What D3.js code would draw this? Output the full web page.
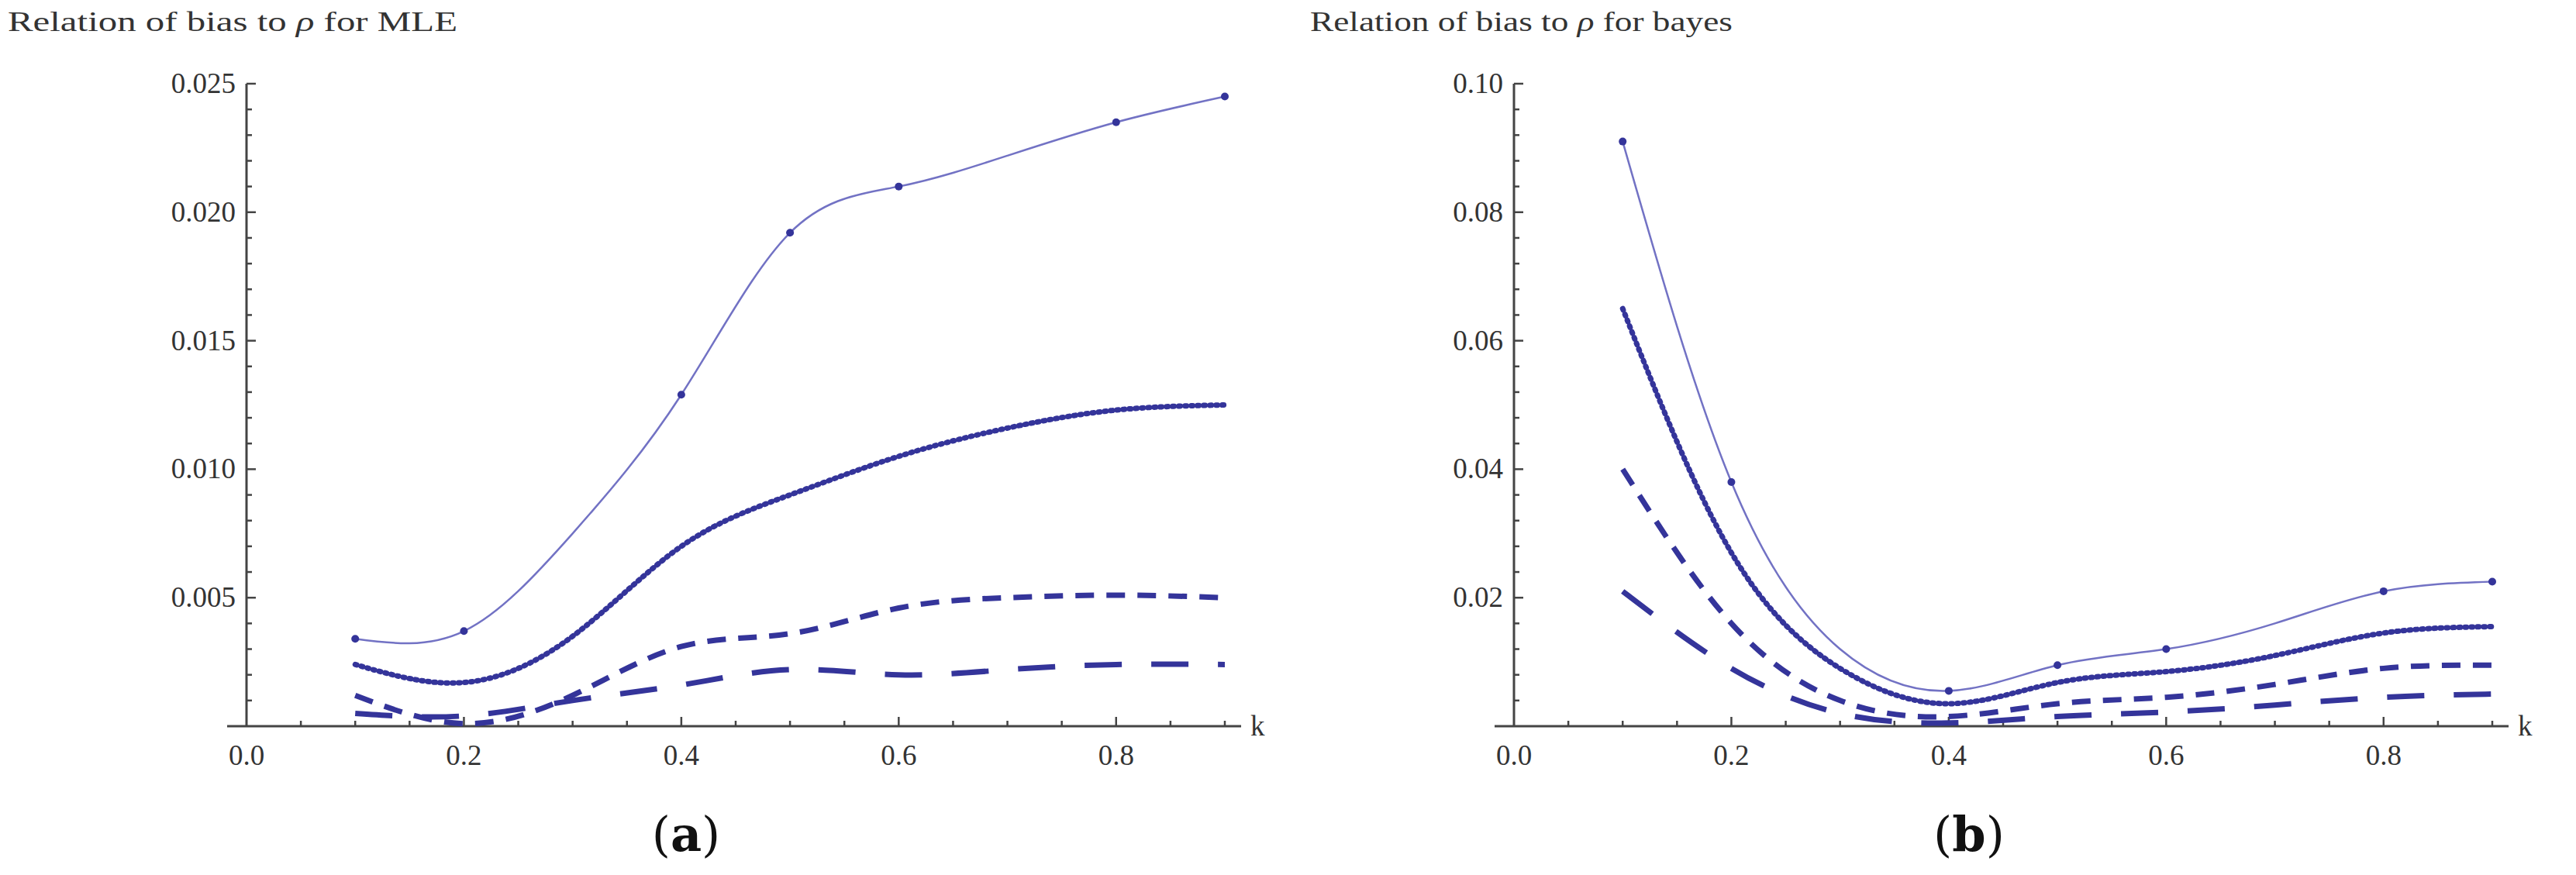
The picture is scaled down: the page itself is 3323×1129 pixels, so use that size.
<!DOCTYPE html>
<html>
<head>
<meta charset="utf-8">
<script src="https://d3js.org/d3.v7.min.js"></script>
<style>
  body { margin: 0; background: #fff; }
  text { font-family: "Liberation Serif", serif; fill: #333; }
</style>
</head>
<body>
<div id="chart"></div>
<script>
// k values shared by both panels
var kValues = [0.1, 0.2, 0.3, 0.4, 0.5, 0.6, 0.7, 0.8, 0.9];
// k values that carry a point marker on the solid curve
var markerK = [0.1, 0.2, 0.4, 0.5, 0.6, 0.8, 0.9];

// (a) MLE
var mleSolid  = [0.0034, 0.0037, 0.0075, 0.0129, 0.0192, 0.0210, 0.0222, 0.0235, 0.0245];
var mleDotted = [0.0024, 0.0017, 0.0035, 0.0070, 0.0090, 0.0105, 0.0116, 0.0123, 0.0125];
var mleDashed = [0.0012, 0.0001, 0.0012, 0.0031, 0.0036, 0.0046, 0.0050, 0.0051, 0.0050];
var mleLong   = [0.0005, 0.0004, 0.0010, 0.0016, 0.0022, 0.0020, 0.0022, 0.0024, 0.0024];

// (b) bayes
var bayesSolid  = [0.091, 0.038, 0.012, 0.0055, 0.0095, 0.012, 0.016, 0.021, 0.0225];
var bayesDotted = [0.065, 0.027, 0.009, 0.0035, 0.0068, 0.0085, 0.011, 0.0145, 0.0155];
var bayesDashed = [0.040, 0.016, 0.004, 0.0015, 0.0035, 0.0045, 0.0065, 0.009, 0.0095];
var bayesLong   = [0.021, 0.009, 0.002, 0.0005, 0.0015, 0.0022, 0.0033, 0.0045, 0.005];

var mleYTicks = [0.005, 0.010, 0.015, 0.020, 0.025];
var bayesYTicks = [0.02, 0.04, 0.06, 0.08, 0.10];
var xTicks = [0.0, 0.2, 0.4, 0.6, 0.8];

var svg = d3.select("#chart").append("svg")
    .attr("width", 3323)
    .attr("height", 1129);

var styles = [
    { color: "#7272c4", width: 2.5, dash: null, marker: true },
    { color: "#34349a", width: 7, dash: "2,6", marker: false },
    { color: "#34349a", width: 7, dash: "24,16", marker: false },
    { color: "#34349a", width: 7, dash: "48,38", marker: false }
];

function drawPanel(opts) {
    var g = svg.append("g");
    var x = d3.scaleLinear().domain([0, 0.9]).range([opts.x0, opts.x0 + 1262]);
    var y = d3.scaleLinear().domain([0, opts.ymax]).range([937, 108]);

    // axes lines
    g.append("line").attr("x1", opts.x0 - 25).attr("x2", x(0.915))
        .attr("y1", y(0)).attr("y2", y(0)).attr("stroke", "#444").attr("stroke-width", 3);
    g.append("line").attr("x1", x(0)).attr("x2", x(0))
        .attr("y1", y(0)).attr("y2", y(opts.ymax)).attr("stroke", "#444").attr("stroke-width", 3);

    // x ticks (major and minor, pointing up)
    d3.range(1, 19).forEach(function(i) {
        var v = i * 0.05;
        var major = i % 4 === 0;
        g.append("line").attr("x1", x(v)).attr("x2", x(v))
            .attr("y1", y(0)).attr("y2", y(0) - (major ? 12 : 7))
            .attr("stroke", "#444").attr("stroke-width", 2.5);
    });
    xTicks.forEach(function(v) {
        g.append("text").attr("x", x(v)).attr("y", y(0) + 50)
            .attr("text-anchor", "middle").attr("font-size", 37).text(v.toFixed(1));
    });
    g.append("text").attr("x", x(0.915) + 12).attr("y", y(0) + 12)
        .attr("font-size", 37).text("k");

    // y ticks (pointing right)
    var minor = opts.ymax / 25;
    d3.range(1, 26).forEach(function(i) {
        var major = i % 5 === 0;
        g.append("line").attr("x1", x(0)).attr("x2", x(0) + (major ? 12 : 7))
            .attr("y1", y(i * minor)).attr("y2", y(i * minor))
            .attr("stroke", "#444").attr("stroke-width", 2.5);
    });
    opts.yTicks.forEach(function(v) {
        g.append("text").attr("x", x(0) - 14).attr("y", y(v) + 12)
            .attr("text-anchor", "end").attr("font-size", 37).text(v.toFixed(opts.digits));
    });

    // title and panel label
    g.append("text").attr("x", opts.titleX).attr("y", 40).attr("font-size", 36)
        .attr("textLength", opts.titleLen).attr("lengthAdjust", "spacingAndGlyphs")
        .html(opts.title);
    g.append("text").attr("x", opts.labelX).attr("y", 1098).attr("text-anchor", "middle")
        .attr("font-size", 62).style("font-family", "'DejaVu Serif', serif").style("fill", "#111")
        .html(opts.label);

    var line = d3.line().curve(d3.curveNatural)
        .x(function(d, i) { return x(kValues[i]); })
        .y(function(d) { return y(Math.max(d, 0)); });

    opts.series.forEach(function(s, si) {
        var st = styles[si];
        g.append("path").datum(s).attr("d", line)
            .attr("fill", "none").attr("stroke", st.color)
            .attr("stroke-width", st.width)
            .attr("stroke-linecap", si === 1 ? "round" : "butt")
            .attr("stroke-dasharray", st.dash);
        if (st.marker) {
            var pts = s.map(function(d, i) { return { k: kValues[i], v: d }; })
                .filter(function(p) { return markerK.indexOf(p.k) >= 0; });
            g.selectAll(null).data(pts).enter().append("circle")
                .attr("cx", function(p) { return x(p.k); })
                .attr("cy", function(p) { return y(p.v); })
                .attr("r", 5).attr("fill", "#34349a");
        }
    });
}

drawPanel({
    x0: 318, ymax: 0.025, yTicks: mleYTicks, digits: 3,
    titleX: 10, titleLen: 580, labelX: 885,
    title: "Relation of bias to <tspan font-style='italic'>ρ</tspan> for MLE",
    label: "(<tspan font-weight='bold'>a</tspan>)",
    series: [mleSolid, mleDotted, mleDashed, mleLong]
});
drawPanel({
    x0: 1953, ymax: 0.10, yTicks: bayesYTicks, digits: 2,
    titleX: 1690, titleLen: 545, labelX: 2540,
    title: "Relation of bias to <tspan font-style='italic'>ρ</tspan> for bayes",
    label: "(<tspan font-weight='bold'>b</tspan>)",
    series: [bayesSolid, bayesDotted, bayesDashed, bayesLong]
});
</script>
</body>
</html>
